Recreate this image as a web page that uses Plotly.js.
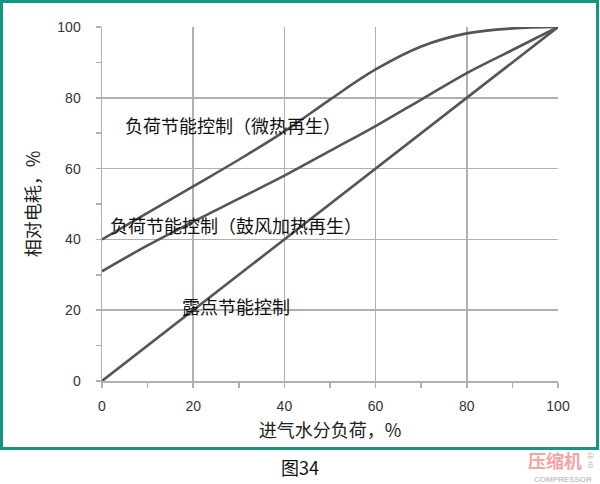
<!DOCTYPE html>
<html>
<head>
<meta charset="utf-8">
<script src="https://cdn.plot.ly/plotly-3.0.1.min.js"></script>
<style>
html,body{margin:0;padding:0;background:#fff;}
#chart{width:600px;height:484px;}
</style>
</head>
<body>
<div id="chart"></div>
<script>
// Data
const loadX = [0, 10, 20, 30, 40, 50, 60, 70, 80, 90, 100];
const microHeat = [40, 47.5, 55, 62.5, 70.5, 79.5, 88, 94.5, 98.2, 99.6, 100];
const blowerHeat = [31, 38.3, 45, 51.5, 58, 65, 72, 79.5, 87, 93.5, 100];
const dewX = [0, 100];
const dewPoint = [0, 100];
const tickVals = [0, 20, 40, 60, 80, 100];

const labelMicro = '负荷节能控制（微热再生）';
const labelBlower = '负荷节能控制（鼓风加热再生）';
const labelDew = '露点节能控制';
const xTitle = '进气水分负荷，%';
const yTitle = '相对电耗，%';
const caption = '图34';

const lineStyle = {color: '#555555', width: 2.6, shape: 'spline', smoothing: 1};
const cjk = '"Noto Sans CJK SC", "Noto Sans", sans-serif';
const num = '"Liberation Sans", Arial, sans-serif';

const traces = [
  {x: loadX, y: microHeat, mode: 'lines', line: lineStyle, cliponaxis: false, hoverinfo: 'skip'},
  {x: loadX, y: blowerHeat, mode: 'lines', line: lineStyle, cliponaxis: false, hoverinfo: 'skip'},
  {x: dewX, y: dewPoint, mode: 'lines', line: {color: '#555555', width: 2.6}, cliponaxis: false, hoverinfo: 'skip'}
];

const axisCommon = {
  range: [0, 100],
  tickvals: tickVals,
  showgrid: true,
  gridcolor: '#b0b0b0',
  gridwidth: 1.5,
  zeroline: false,
  showline: true,
  linecolor: '#b0b0b0',
  linewidth: 1.5,
  ticks: 'outside',
  ticklen: 5,
  tickwidth: 1.5,
  tickcolor: '#b0b0b0',
  tickfont: {family: num, size: 14, color: '#333333'},
  minor: {dtick: 10, tick0: 0, ticks: 'outside', ticklen: 5, tickwidth: 1.5, tickcolor: '#b0b0b0', showgrid: false},
  fixedrange: true,
  automargin: false
};

const layout = {
  width: 600,
  height: 484,
  margin: {l: 102, r: 42, t: 27, b: 103},
  paper_bgcolor: '#ffffff',
  plot_bgcolor: '#ffffff',
  showlegend: false,
  xaxis: Object.assign({}, axisCommon, {
    ticklabelstandoff: 7,
    title: {text: xTitle, font: {family: cjk, size: 18, color: '#222222'}, standoff: 11}
  }),
  yaxis: Object.assign({}, axisCommon, {
    ticklabelstandoff: 12,
    title: {text: yTitle, font: {family: cjk, size: 18, color: '#222222'}, standoff: 12}
  }),
  shapes: [
    {type: 'rect', xref: 'paper', yref: 'paper', x0: -0.2204, x1: 1.0866, y0: -0.1907, y1: 1.072,
     line: {color: '#13977f', width: 3}, fillcolor: 'rgba(0,0,0,0)', layer: 'below'}
  ],
  annotations: [
    {x: 4.6, y: 72.2, xref: 'x', yref: 'y', text: labelMicro, showarrow: false, xanchor: 'left', yanchor: 'middle',
     font: {family: cjk, size: 18, color: '#111111'}},
    {x: 1.3, y: 44, xref: 'x', yref: 'y', text: labelBlower, showarrow: false, xanchor: 'left', yanchor: 'middle',
     font: {family: cjk, size: 18, color: '#111111'}},
    {x: 17.1, y: 21.2, xref: 'x', yref: 'y', text: labelDew, showarrow: false, xanchor: 'left', yanchor: 'middle',
     font: {family: cjk, size: 18, color: '#111111'}},
    {x: 0.434, y: -0.243, xref: 'paper', yref: 'paper', text: caption, showarrow: false, xanchor: 'center', yanchor: 'middle',
     font: {family: cjk, size: 18, color: '#111111'}},
    {x: 0.994, y: -0.222, xref: 'paper', yref: 'paper', text: '<b>压缩机</b>', showarrow: false, xanchor: 'center', yanchor: 'middle',
     font: {family: cjk, size: 18, color: '#f3a3a3'}},
    {x: 1.072, y: -0.222, xref: 'paper', yref: 'paper', text: '杂<br>志', showarrow: false, xanchor: 'center', yanchor: 'middle',
     font: {family: cjk, size: 7, color: '#bbbbbb'}},
    {x: 1.011, y: -0.278, xref: 'paper', yref: 'paper', text: '<b>COMPRESSOR</b>', showarrow: false, xanchor: 'center', yanchor: 'middle',
     font: {family: num, size: 8, color: '#c8c8c8'}}
  ]
};

Plotly.newPlot('chart', traces, layout, {staticPlot: true, displayModeBar: false});
</script>
</body>
</html>
